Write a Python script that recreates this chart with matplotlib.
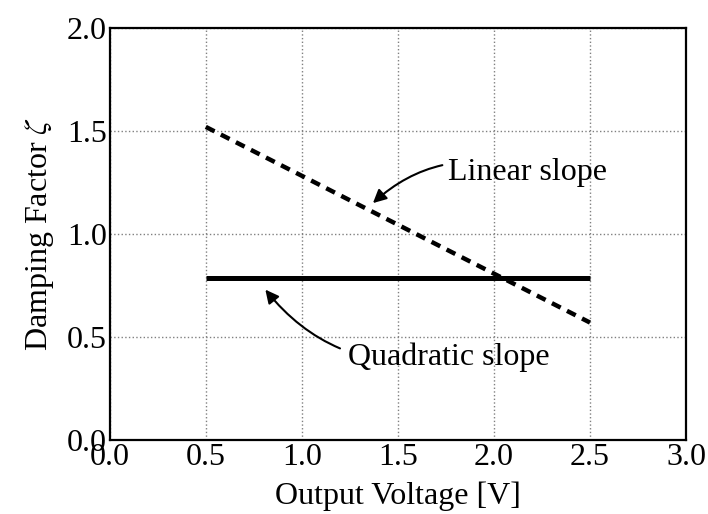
import matplotlib

matplotlib.use("Agg")

import matplotlib.pyplot as plt

plt.rcParams["font.family"] = ["Liberation Serif", "DejaVu Serif"]
plt.rcParams["mathtext.fontset"] = "stix"

# data
linear_v = [0.5, 2.5]
linear_zeta = [1.52, 0.57]

quadratic_v = [0.5, 2.5]
quadratic_zeta = [0.785, 0.785]

x_ticks = [0.0, 0.5, 1.0, 1.5, 2.0, 2.5, 3.0]
y_ticks = [0.0, 0.5, 1.0, 1.5, 2.0]

FONT_SIZE = 23

fig = plt.figure(figsize=(7.08, 5.14), dpi=100)
ax = fig.add_axes([0.155, 0.144, 0.814, 0.8015])

ax.plot(
    linear_v,
    linear_zeta,
    color="black",
    linewidth=3.2,
    linestyle=(0, (2.2, 1.6)),
)

ax.plot(
    quadratic_v,
    quadratic_zeta,
    color="black",
    linewidth=3.6,
    solid_capstyle="butt",
)

ax.set_xlim(0, 3)
ax.set_ylim(0, 2)
ax.set_xticks(x_ticks)
ax.set_yticks(y_ticks)
ax.set_xticklabels([f"{t:.1f}" for t in x_ticks])
ax.set_yticklabels([f"{t:.1f}" for t in y_ticks])

ax.grid(True, linestyle=":", color="gray", linewidth=1.0)
ax.set_axisbelow(True)

for spine in ax.spines.values():
    spine.set_linewidth(1.6)

ax.tick_params(axis="both", length=0, labelsize=FONT_SIZE, pad=2)

ax.set_xlabel("Output Voltage [V]", fontsize=FONT_SIZE, labelpad=7)
ax.set_ylabel(r"Damping Factor $\zeta$", fontsize=FONT_SIZE, labelpad=8)

ax.annotate(
    "Linear slope",
    xy=(1.37, 1.15),
    xytext=(1.76, 1.30),
    fontsize=FONT_SIZE,
    va="center",
    ha="left",
    arrowprops=dict(
        arrowstyle="-|>",
        color="black",
        linewidth=1.5,
        mutation_scale=20,
        shrinkA=2,
        shrinkB=0,
        connectionstyle="arc3,rad=0.3",
    ),
)

ax.annotate(
    "Quadratic slope",
    xy=(0.81, 0.73),
    xytext=(1.24, 0.40),
    fontsize=FONT_SIZE,
    va="center",
    ha="left",
    arrowprops=dict(
        arrowstyle="-|>",
        color="black",
        linewidth=1.5,
        mutation_scale=20,
        shrinkA=4,
        shrinkB=0,
        connectionstyle="arc3,rad=-0.3",
    ),
)

fig.savefig("out.png", dpi=100)
